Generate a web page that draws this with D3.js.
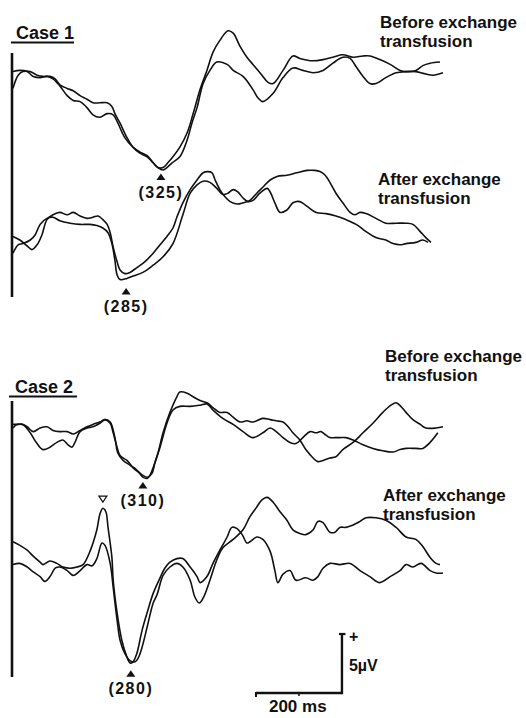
<!DOCTYPE html>
<html>
<head>
<meta charset="utf-8">
<script src="https://cdn.jsdelivr.net/npm/d3@7"></script>
<style>
    body { margin: 0; background: #fff; }
    text { font-family: "Liberation Sans", Arial, sans-serif; font-weight: bold; fill: #111; }
</style>
</head>
<body>
<svg id="chart"></svg>
<script>
// ERP traces: [time (ms), amplitude (µV, positive up)]
const case1BeforeA = [[0,-0.7],[12,0.4],[23,0.7],[40,0.7],[56,0.4],[70,0.3],[86,0.3],[98,0.1],[109,-0.4],[126,-0.7],[140,-0.9],[156,-1.3],[172,-1.6],[186,-1.9],[202,-1.9],[219,-1.9],[230,-2.2],[237,-2.8],[249,-3.6],[265,-4.8],[279,-5.6],[295,-6.1],[312,-6.4],[326,-6.9],[337,-7.3],[349,-7.3],[360,-6.9],[372,-6.4],[388,-5.6],[405,-4.4],[419,-2.8],[435,-0.8],[451,0.8],[465,2.3],[481,3.3],[500,4.1],[512,3.9],[528,2.8],[544,1.9],[558,1.3],[579,0.4],[593,-0.2],[605,-0.3],[628,0.8],[651,2.0],[667,1.8],[698,1.6],[721,1.7],[744,1.9],[767,2.1],[791,1.9],[814,2.0],[830,2.0],[853,1.7],[877,1.3],[900,0.8],[914,0.7],[937,0.8],[953,1.2],[970,1.4],[993,1.5]];
const case1BeforeB = [[0,0.7],[16,0.8],[33,0.7],[47,0.3],[63,0.2],[79,0.3],[93,0.1],[109,-0.5],[126,-1.3],[140,-1.7],[156,-1.8],[172,-2.3],[186,-2.9],[202,-3.1],[219,-2.8],[233,-2.9],[244,-3.6],[260,-4.8],[279,-5.6],[295,-6.0],[312,-6.3],[326,-6.9],[337,-7.3],[349,-7.5],[358,-7.3],[370,-6.9],[388,-6.4],[405,-5.0],[416,-3.6],[428,-2.3],[442,-0.3],[458,0.8],[474,1.5],[498,1.3],[512,0.8],[535,0.3],[558,-0.8],[570,-1.5],[581,-1.8],[605,-1.1],[628,0.2],[651,1.0],[674,0.8],[698,0.6],[721,0.8],[744,1.4],[767,1.9],[784,1.8],[798,1.1],[814,0.3],[830,-0.3],[844,-0.3],[867,0.2],[891,0.6],[914,0.7],[937,0.7],[960,0.5],[977,0.4],[1000,0.6]];

const case1AfterA = [[0,0.3],[16,0],[33,-0.5],[44,-0.8],[56,-0.4],[67,0.4],[79,1.7],[93,2.1],[109,2.3],[126,2.1],[140,2.3],[156,2.0],[172,1.8],[186,1.9],[198,2.0],[209,1.7],[219,1.3],[226,0.6],[233,-0.6],[242,-1.8],[249,-2.5],[260,-2.8],[272,-2.7],[288,-2.3],[307,-1.8],[326,-1.1],[342,-0.4],[358,0.3],[372,1.0],[381,1.9],[395,3.1],[412,4.2],[428,5.0],[442,5.6],[453,5.7],[463,5.6],[470,5.0],[481,4.2],[493,3.6],[505,3.2],[521,3.0],[535,3.1],[551,3.3],[567,3.9],[581,4.4],[598,5.0],[614,5.3],[637,5.4],[660,5.6],[684,5.8],[702,5.8],[714,5.7],[726,5.4],[737,4.8],[751,3.9],[767,3.1],[784,2.3],[795,2.1],[807,2.3],[821,2.2],[844,1.8],[867,1.4],[891,1.4],[914,1.4],[930,1.3],[947,0.7],[960,0.2],[972,-0.2]];
const case1AfterB = [[0,-1.1],[12,-0.4],[23,-0.3],[40,0],[51,0.4],[63,1.3],[79,1.8],[93,1.9],[109,1.6],[133,1.4],[156,1.3],[179,1.3],[195,1.2],[209,1.0],[221,0.6],[230,-0.3],[237,-1.7],[242,-2.9],[249,-3.3],[265,-3.2],[279,-3.0],[302,-2.7],[326,-2.1],[349,-1.4],[372,-0.3],[395,2.1],[412,3.9],[428,4.6],[442,4.9],[458,4.8],[474,4.3],[488,3.8],[500,3.9],[512,4.2],[523,4.0],[535,3.5],[547,3.2],[558,3.3],[574,3.9],[591,4.3],[598,4.0],[609,3.1],[621,2.3],[637,2.5],[651,3.1],[667,3.2],[684,2.8],[705,2.3],[728,2.2],[751,2.0],[774,1.7],[798,1.3],[821,0.7],[844,0.2],[867,0],[884,-0.3],[900,-0.4],[914,-0.3],[937,-0.2],[953,0],[965,-0.2]];

const case2BeforeA = [[0,0],[9,0.3],[21,0.3],[33,0.1],[47,-0.3],[63,0],[79,0.1],[93,-0.2],[109,-0.3],[126,-0.3],[140,-0.5],[156,-0.2],[172,0.1],[186,0.3],[202,0.5],[214,0.7],[226,0.4],[233,-0.4],[242,-1.6],[249,-2.3],[265,-2.7],[279,-3.3],[295,-3.8],[302,-4.1],[312,-4.2],[319,-3.9],[326,-3.3],[337,-2.1],[349,-0.4],[365,1.3],[381,2.6],[388,3.0],[405,2.9],[419,2.6],[435,2.3],[451,2.1],[465,1.7],[481,1.3],[498,1.3],[512,0.9],[528,0.5],[544,0.6],[558,0.5],[581,0.8],[598,0.7],[612,0.6],[628,0.5],[640,0.1],[651,-0.4],[667,-1.0],[681,-1.8],[698,-2.5],[709,-2.8],[721,-2.7],[737,-2.5],[751,-2.4],[767,-1.8],[791,-1.2],[814,-0.4],[837,0.4],[860,1.3],[879,1.9],[891,2.1],[902,1.8],[914,1.3],[930,0.7],[947,0.3],[960,0],[984,0],[1000,0.1]];
const case2BeforeB = [[0,0.3],[12,0.3],[23,0.3],[40,-0.4],[56,-1.3],[70,-1.8],[86,-1.6],[102,-1.2],[116,-1.0],[128,-1.4],[137,-1.6],[144,-1.2],[156,-0.3],[172,0],[186,0.1],[202,0.4],[214,0.7],[226,0.5],[237,-0.8],[244,-2.1],[256,-2.7],[272,-3.1],[288,-3.5],[300,-3.9],[312,-4.1],[323,-3.8],[330,-2.9],[342,-1.6],[358,0.4],[372,1.5],[388,1.8],[412,1.8],[435,1.9],[451,2.0],[465,1.5],[488,0.8],[512,0.3],[535,-0.3],[558,-0.8],[581,-0.4],[598,0],[612,-0.3],[628,-0.8],[644,-1.2],[658,-1.3],[674,-0.8],[691,-0.3],[705,-0.4],[716,-0.3],[728,-0.6],[737,-0.8],[749,-0.8],[760,-0.8],[774,-0.8],[791,-1.0],[814,-1.4],[837,-1.7],[860,-1.9],[884,-2.0],[900,-1.8],[914,-1.7],[937,-1.7],[953,-1.7],[970,-1.2],[988,-0.4]];

const case2AfterA = [[0,1.1],[16,0.8],[33,0.4],[47,-0.1],[63,-0.6],[70,-0.8],[86,-0.5],[102,-0.7],[116,-1.0],[133,-1.1],[149,-1.0],[163,-0.8],[179,0.3],[195,2.1],[202,3.4],[209,3.9],[216,3.6],[221,2.3],[230,-0.2],[233,-2.1],[242,-4.8],[253,-7.1],[265,-8.5],[272,-9.0],[279,-8.9],[288,-8.2],[300,-6.3],[312,-4.8],[326,-3.2],[342,-1.9],[353,-1.1],[365,-0.6],[381,-0.3],[395,-0.3],[412,-1.0],[428,-1.8],[435,-2.3],[451,-1.8],[465,-0.7],[481,0.4],[498,1.5],[509,2.3],[521,2.2],[533,1.7],[544,1.0],[551,1.1],[567,1.5],[581,1.3],[598,0.3],[609,-1.3],[616,-2.3],[628,-1.6],[644,-1.3],[658,-2.1],[681,-1.9],[698,-2.1],[709,-1.8],[721,-1.1],[737,-0.7],[760,-0.8],[784,-0.7],[807,-1.3],[830,-1.8],[853,-2.3],[877,-1.8],[900,-1.3],[914,-0.8],[930,-1.0],[949,-0.7],[970,-1.3],[984,-1.5],[1000,-1.5]];
const case2AfterB = [[0,-0.8],[16,-0.7],[33,-1.0],[47,-1.4],[63,-1.8],[74,-2.2],[86,-1.8],[98,-1.1],[109,-1.0],[126,-1.3],[140,-1.7],[156,-1.3],[172,-0.8],[184,-0.9],[195,-0.3],[207,1.0],[214,0.8],[226,-0.7],[233,-2.7],[242,-5.4],[249,-7.1],[260,-8.2],[272,-8.8],[284,-8.9],[291,-8.6],[300,-7.7],[312,-6.0],[326,-4.0],[335,-3.3],[349,-1.7],[365,-1.0],[381,-0.7],[395,-1.0],[412,-2.1],[423,-3.5],[433,-4.0],[442,-3.6],[458,-2.1],[474,-0.4],[488,0.6],[512,1.3],[535,2.1],[551,3.2],[567,4.0],[579,4.6],[591,4.8],[605,4.4],[621,3.6],[637,2.9],[651,2.1],[667,1.8],[681,1.7],[698,2.1],[709,2.8],[721,2.7],[737,1.9],[749,1.9],[760,2.3],[774,2.3],[791,2.5],[807,2.8],[821,3.1],[844,3.1],[867,2.9],[891,2.3],[914,1.5],[937,1.3],[953,0.7],[970,-0.2],[984,-0.7],[993,-0.8]];

// latency markers: time (ms), amplitude of the marker tip (µV), label
const case1BeforeMarks = [{t: 344, v: -7.8, label: "(325)", filled: true}];
const case1AfterMarks = [{t: 263, v: -4.0, label: "(285)", filled: true}];
const case2BeforeMarks = [{t: 302, v: -4.5, label: "(310)", filled: true}];
const case2AfterMarks = [{t: 274, v: -9.6, label: "(280)", filled: true}, {t: 209, v: 4.4, label: "", filled: false}];

const conditionLabels = ["Before exchange", "After exchange"];
const caseLabels = ["Case 1", "Case 2"];
const scaleTime = 200;   // ms
const scaleVolt = 5;     // µV

// layout
const width = 526, height = 718;
const pxPerUv = 12;

const svg = d3.select("#chart").attr("width", width).attr("height", height);

const x = d3.scaleLinear().domain([0, 1000]).range([13, 443]);
const yFor = base => d3.scaleLinear().domain([0, scaleVolt]).range([base, base - scaleVolt * pxPerUv]);

const line = y => d3.line()
    .x(d => x(d[0]))
    .y(d => y(d[1]))
    .curve(d3.curveCatmullRom.alpha(0.5));

const groups = [
    {traces: [case1BeforeA, case1BeforeB], marks: case1BeforeMarks, base: 80, cond: conditionLabels[0], lx: 380, ly: 28},
    {traces: [case1AfterA, case1AfterB], marks: case1AfterMarks, base: 240, cond: conditionLabels[1], lx: 378, ly: 185},
    {traces: [case2BeforeA, case2BeforeB], marks: case2BeforeMarks, base: 428, cond: conditionLabels[0], lx: 385, ly: 362},
    {traces: [case2AfterA, case2AfterB], marks: case2AfterMarks, base: 555, cond: conditionLabels[1], lx: 383, ly: 501}
];

const panels = [
    {label: caseLabels[0], tx: 16, ty: 39, ul: [11, 74], axis: [53, 297]},
    {label: caseLabels[1], tx: 15, ty: 393, ul: [9, 77], axis: [401, 677]}
];

// case titles, underline and left axis line
panels.forEach(p => {
    svg.append("text").attr("x", p.tx).attr("y", p.ty)
        .style("font-size", "18px").text(p.label);
    svg.append("line")
        .attr("x1", p.ul[0]).attr("x2", p.ul[1])
        .attr("y1", p.ty + 3.5).attr("y2", p.ty + 3.5)
        .attr("stroke", "#111").attr("stroke-width", 2);
    svg.append("line")
        .attr("x1", x(0) - 1).attr("x2", x(0) - 1)
        .attr("y1", p.axis[0]).attr("y2", p.axis[1])
        .attr("stroke", "#111").attr("stroke-width", 2.6);
});

groups.forEach(g => {
    const y = yFor(g.base);
    const gg = svg.append("g");

    gg.selectAll("path.trace")
        .data(g.traces)
        .join("path")
        .attr("class", "trace")
        .attr("fill", "none")
        .attr("stroke", "#111")
        .attr("stroke-width", 1.6)
        .attr("stroke-linejoin", "round")
        .attr("d", d => line(y)(d));

    // markers
    g.marks.forEach(m => {
        const mx = x(m.t), my = y(m.v);
        if (m.filled) {
            gg.append("path")
                .attr("d", `M${mx},${my} L${mx - 4.5},${my + 6.5} L${mx + 4.5},${my + 6.5} Z`)
                .attr("fill", "#111");
            gg.append("text")
                .attr("x", mx).attr("y", my + 24)
                .attr("text-anchor", "middle")
                .style("font-size", "16px")
                .style("letter-spacing", "1.5px")
                .text(m.label);
        } else {
            gg.append("path")
                .attr("d", `M${mx},${my} L${mx - 4},${my - 6} L${mx + 4},${my - 6} Z`)
                .attr("fill", "none")
                .attr("stroke", "#111")
                .attr("stroke-width", 1.2);
        }
    });

    // condition label
    const t = gg.append("text").attr("x", g.lx).attr("y", g.ly).style("font-size", "17px");
    t.append("tspan").attr("x", g.lx).text(g.cond);
    t.append("tspan").attr("x", g.lx).attr("dy", 18.5).text("transfusion");
});

// calibration bars
const sbY = yFor(693);
const t0 = 565;
const sb = svg.append("g").attr("stroke", "#111").attr("fill", "none");
sb.append("line")
    .attr("x1", x(t0)).attr("x2", x(t0 + scaleTime))
    .attr("y1", sbY(0)).attr("y2", sbY(0))
    .attr("stroke-width", 2.4);
sb.append("line")
    .attr("x1", x(t0)).attr("x2", x(t0))
    .attr("y1", sbY(0) - 1).attr("y2", sbY(0) + 4)
    .attr("stroke-width", 2);
sb.append("line")
    .attr("x1", x(t0 + scaleTime / 2)).attr("x2", x(t0 + scaleTime / 2))
    .attr("y1", sbY(0)).attr("y2", sbY(0) + 3)
    .attr("stroke-width", 1.5);
sb.append("line")
    .attr("x1", x(t0 + scaleTime)).attr("x2", x(t0 + scaleTime))
    .attr("y1", sbY(0) + 1.2).attr("y2", sbY(scaleVolt))
    .attr("stroke-width", 2.4);
sb.append("line")
    .attr("x1", x(t0 + scaleTime) - 3).attr("x2", x(t0 + scaleTime) + 3.5)
    .attr("y1", sbY(scaleVolt) + 1).attr("y2", sbY(scaleVolt) + 1)
    .attr("stroke-width", 2.2);

svg.append("text")
    .attr("x", x(t0 + scaleTime) + 7).attr("y", sbY(scaleVolt) + 9)
    .style("font-size", "16px").text("+");
svg.append("text")
    .attr("x", x(t0 + scaleTime) + 7).attr("y", sbY(scaleVolt) + 38)
    .style("font-size", "16px").text("5\u00b5V");
svg.append("text")
    .attr("x", x(t0 + 100) - 30).attr("y", 712)
    .style("font-size", "17px").text(scaleTime + " ms");
</script>
</body>
</html>
